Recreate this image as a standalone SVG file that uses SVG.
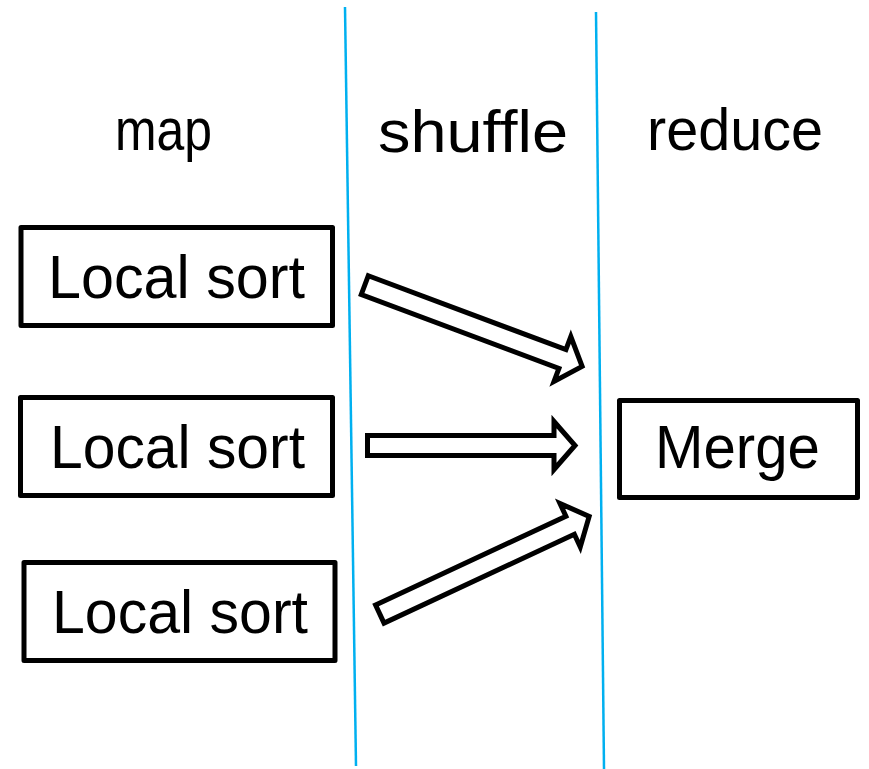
<svg xmlns="http://www.w3.org/2000/svg" width="869" height="769" viewBox="0 0 869 769">
  <style>
    .box { fill: #ffffff; stroke: #000000; stroke-width: 5; stroke-linejoin: round; }
    .lbl { font-family: "Liberation Sans", Arial, sans-serif; fill: #000000; }
    .node { font-size: 62px; }
    .head { font-size: 60px; }
    .sep { stroke: #00b0f0; stroke-width: 2.5; fill: none; }
    .arrow { fill: #ffffff; stroke: #000000; stroke-width: 5; stroke-linejoin: miter; stroke-miterlimit: 10; }
  </style>
  <rect width="869" height="769" fill="#ffffff"/>

  <g id="separators">
    <line class="sep" x1="345" y1="7" x2="356" y2="766"/>
    <line class="sep" x1="596" y1="12" x2="604" y2="769"/>
  </g>

  <g id="headers">
    <text class="lbl head" x="115" y="150" textLength="97" lengthAdjust="spacingAndGlyphs">map</text>
    <text class="lbl head" x="378" y="152" textLength="190" lengthAdjust="spacingAndGlyphs">shuffle</text>
    <text class="lbl head" x="647" y="150" textLength="176" lengthAdjust="spacingAndGlyphs">reduce</text>
  </g>

  <g id="map1">
    <rect class="box" x="21" y="227.5" width="311.5" height="98"/>
    <text class="lbl node" x="48" y="298" textLength="257" lengthAdjust="spacingAndGlyphs">Local sort</text>
  </g>
  <g id="map2">
    <rect class="box" x="20.5" y="397.5" width="312" height="98"/>
    <text class="lbl node" x="50" y="468" textLength="255" lengthAdjust="spacingAndGlyphs">Local sort</text>
  </g>
  <g id="map3">
    <rect class="box" x="24" y="562.5" width="311" height="98"/>
    <text class="lbl node" x="52" y="633" textLength="256" lengthAdjust="spacingAndGlyphs">Local sort</text>
  </g>
  <g id="merge">
    <rect class="box" x="619.5" y="400.5" width="238" height="97"/>
    <text class="lbl node" x="655" y="468" font-size="58" textLength="165" lengthAdjust="spacingAndGlyphs">Merge</text>
  </g>

  <g id="connectors">
    <polygon class="arrow" transform="translate(364.8,285.1) rotate(20.5)" points="0,-10 211,-10 211,-24 232,0 211,24 211,10 0,10"/>
    <polygon class="arrow" transform="translate(367.5,445.5)" points="0,-10 186.5,-10 186.5,-24 207.5,0 186.5,24 186.5,10 0,10"/>
    <polygon class="arrow" transform="translate(379.8,614) rotate(-25)" points="0,-10 210,-10 210,-24 231,0 210,24 210,10 0,10"/>
  </g>
</svg>
